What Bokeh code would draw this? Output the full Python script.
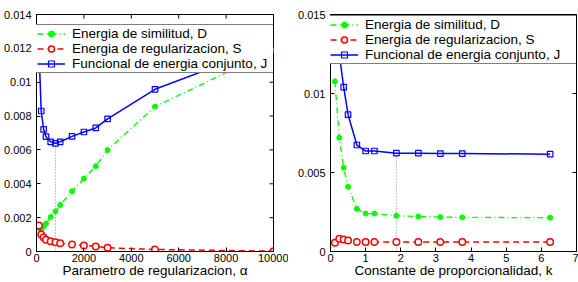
from bokeh.plotting import figure
from bokeh.models import (Range1d, FixedTicker, CustomJSTickFormatter,
                          Legend, LegendItem)
from bokeh.layouts import row
from bokeh.embed import file_html
from bokeh.resources import INLINE

# ---------------- data (left panel) ----------------
alpha = [100, 200, 300, 400, 600, 800, 1000, 1500, 2000, 2500, 3000, 5000, 10000]
D_alpha = [0.0014, 0.00125, 0.00148, 0.00165, 0.00204, 0.00237, 0.00275,
           0.00356, 0.00431, 0.00504, 0.0060, 0.00856, 0.0119]
S_alpha = [0.00154, 0.00101, 0.00083, 0.00069, 0.00061, 0.00055, 0.00049,
           0.00042, 0.00036, 0.0003, 0.00022, 0.00012, 0.00002]
J_alpha = [0.0120, 0.0083, 0.00722, 0.00678, 0.00648, 0.00639, 0.00648,
           0.0068, 0.00706, 0.0073, 0.00783, 0.00958, 0.01222]
alpha_opt = 800

# ---------------- data (right panel) ----------------
k = [0.125, 0.25, 0.375, 0.5, 0.75, 1.0, 1.25, 1.875, 2.5, 3.125, 3.75, 6.25]
D_k = [0.01077, 0.0072, 0.0053, 0.0041, 0.0027, 0.0024, 0.0024, 0.00226,
       0.00222, 0.00218, 0.00216, 0.00214]
S_k = [0.00056, 0.0008, 0.00076, 0.0007, 0.0006, 0.0006, 0.0006, 0.0006,
       0.0006, 0.0006, 0.0006, 0.0006]
J_k = [0.0147, 0.0125, 0.0104, 0.00866, 0.00674, 0.00636, 0.00636, 0.00622,
       0.00622, 0.0062, 0.0062, 0.00616]
k_opt = 1.875

# ticks
left_xticks = [0, 2000, 4000, 6000, 8000, 10000]
left_yticks = [0, 0.002, 0.004, 0.006, 0.008, 0.01, 0.012, 0.014]
right_xticks = [0, 1, 2, 3, 4, 5, 6, 7]
right_yticks = [0, 0.005, 0.01, 0.015]

labels = ["Energia de similitud, D", "Energia de regularizacion, S",
          "Funcional de energia conjunto, J"]
xtitle_left = "Parametro de regularizacion, \u03b1"
xtitle_right = "Constante de proporcionalidad, k"

FONT = "Liberation Sans"
GREEN = "#00ff00"
RED = "#ff0000"
BLUE = "#0000ff"

fmt = CustomJSTickFormatter(code="return (Math.round(tick*1e6)/1e6).toString();")


def make_panel(x, D, S, J, xopt, xr, yr, xticks, yticks, xtitle, w, h,
               bl, bt, br, bb, leg_xy, leg_lw, fw_est, fh_est):
    p = figure(width=w, height=h, x_range=Range1d(*xr),
               y_range=Range1d(*yr), output_backend="svg", toolbar_location=None,
               min_border_left=bl, min_border_top=bt, min_border_right=br,
               min_border_bottom=bb, background_fill_color="white",
               border_fill_color="white")
    p.grid.visible = False
    p.outline_line_color = "black"
    p.outline_line_width = 1

    for ax, ticks in ((p.xaxis[0], xticks), (p.yaxis[0], yticks)):
        ax.ticker = FixedTicker(ticks=ticks)
        ax.formatter = fmt
        ax.major_tick_in = 4
        ax.major_tick_out = 0
        ax.minor_tick_line_color = None
        ax.axis_line_color = "black"
        ax.major_tick_line_color = "black"
        ax.major_label_text_font = FONT
        ax.major_label_text_font_size = "11px"
        ax.major_label_text_color = "black"
    p.xaxis.major_label_standoff = 2
    p.yaxis.major_label_standoff = 5
    p.xaxis.axis_label = xtitle
    p.xaxis.axis_label_text_font = FONT
    p.xaxis.axis_label_text_font_size = "13.5px"
    p.xaxis.axis_label_text_font_style = "normal"
    p.xaxis.axis_label_text_color = "black"
    p.xaxis.axis_label_standoff = -2

    # inward ticks on the top and right frame edges (matlab box style)
    tx = (yr[1] - yr[0]) * 4.0 / fh_est
    ty = (xr[1] - xr[0]) * 4.0 / fw_est
    p.segment(x0=xticks, y0=[yr[1]] * len(xticks), x1=xticks,
              y1=[yr[1] - tx] * len(xticks), line_color="black", line_width=1)
    p.segment(x0=[xr[1]] * len(yticks), y0=yticks, x1=[xr[1] - ty] * len(yticks),
              y1=yticks, line_color="black", line_width=1)

    # optimum marker
    i = x.index(xopt)
    p.segment(x0=[x[i]], y0=[0], x1=[x[i]], y1=[J[i]], line_color="#808080",
              line_dash="1 2", line_width=1)

    lD = p.line(x, D, line_color=GREEN, line_width=1.3, line_dash="6 3 1 3")
    mD = p.scatter(x, D, marker="circle", size=5, fill_color=GREEN,
                   line_color=GREEN)
    lS = p.line(x, S, line_color=RED, line_width=1.5, line_dash="6 4")
    mS = p.scatter(x, S, marker="circle", size=6.5, fill_color="white",
                   line_color=RED, line_width=1.5)
    lJ = p.line(x, J, line_color=BLUE, line_width=1.5)
    mJ = p.scatter(x, J, marker="square", size=5.5, fill_color=None,
                   line_color=BLUE, line_width=1.2)

    leg = Legend(items=[LegendItem(label=labels[0], renderers=[lD, mD]),
                        LegendItem(label=labels[1], renderers=[lS, mS]),
                        LegendItem(label=labels[2], renderers=[lJ, mJ])],
                 location=leg_xy, padding=1, spacing=0, margin=0,
                 glyph_width=28, glyph_height=15, label_height=15,
                 label_width=leg_lw, label_standoff=7, label_text_font=FONT,
                 label_text_font_size="13.5px", label_text_color="black",
                 border_line_color="black", border_line_width=1,
                 background_fill_color="white", background_fill_alpha=1.0)
    p.add_layout(leg, "center")
    return p


p1 = make_panel(alpha, D_alpha, S_alpha, J_alpha, alpha_opt, (0, 10000),
                (0, 0.014), left_xticks, left_yticks, xtitle_left,
                288, 282, 35, 14, 15, 31, (-1, 178), 203, 238, 237)
p2 = make_panel(k, D_k, S_k, J_k, k_opt, (0, 7), (0, 0.015), right_xticks,
                right_yticks, xtitle_right, 290, 282, 42, 5, 2, 31, (-2, 187),
                210, 246, 246)

layout = row(p1, p2)
open("out.html", "w").write(file_html(layout, INLINE))
